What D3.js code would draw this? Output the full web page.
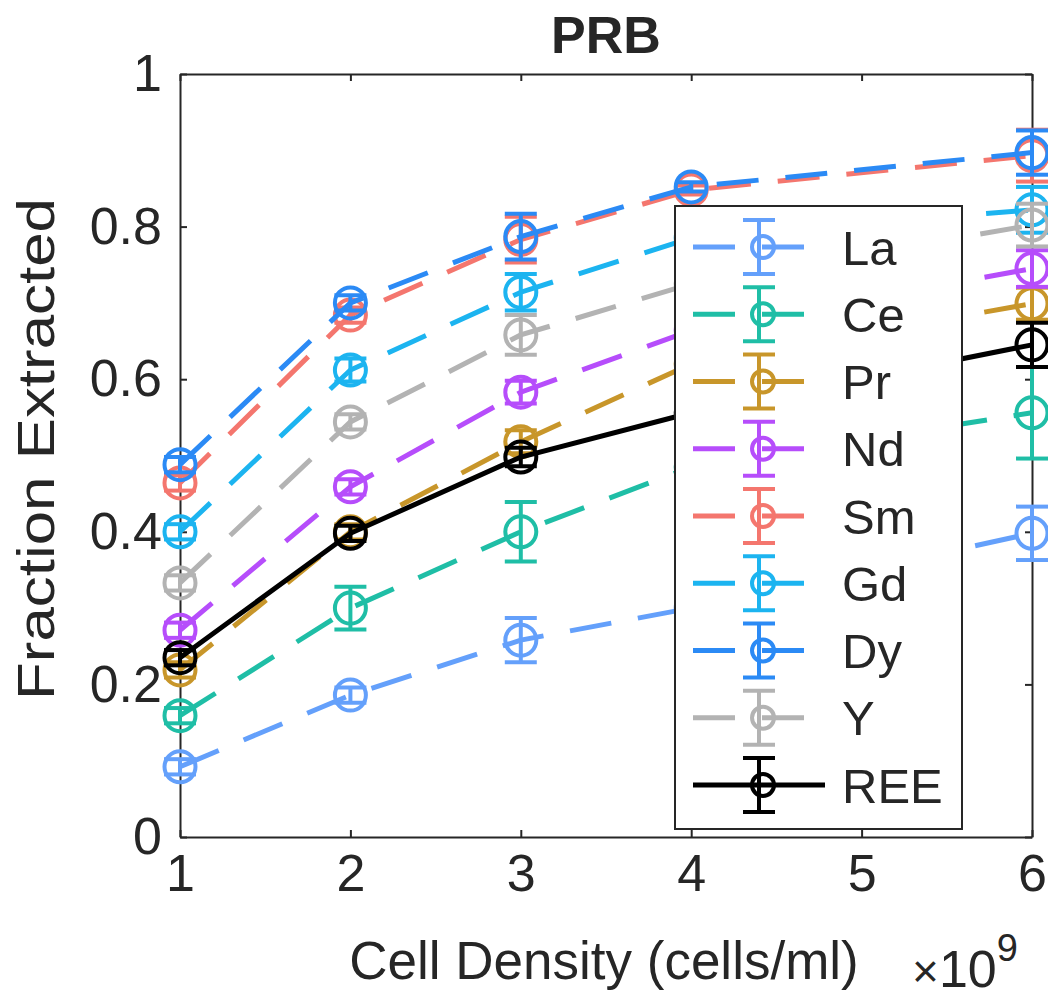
<!DOCTYPE html>
<html>
<head>
<meta charset="utf-8">
<script src="https://cdn.jsdelivr.net/npm/d3@7"></script>
<style>
  html, body { margin: 0; padding: 0; background: #fff; }
  svg { display: block; }
  text { font-family: "Liberation Sans", Arial, Helvetica, sans-serif; fill: #262626; }
</style>
</head>
<body>
<svg id="chart" width="1048" height="999"></svg>
<script>
// ---- data ----
const xValues = [1, 2, 3, 4, 6]; // cell density ×10^9
const xTicks = [1, 2, 3, 4, 5, 6];
const yTicks = [0, 0.2, 0.4, 0.6, 0.8, 1];
const yTickLabels = ["0", "0.2", "0.4", "0.6", "0.8", "1"];
const seriesNames = ["La", "Ce", "Pr", "Nd", "Sm", "Gd", "Dy", "Y", "REE"];
const seriesColors = ["#64a0fb", "#1fbea6", "#c8962a", "#b64dfb", "#f4766e", "#1cb4f0", "#2b8af5", "#b3b3b3", "#000000"];

const La  = [0.092, 0.186, 0.258, 0.300, 0.398];
const Ce  = [0.159, 0.300, 0.400, 0.485, 0.556];
const Pr  = [0.219, 0.400, 0.518, 0.620, 0.699];
const Nd  = [0.271, 0.459, 0.583, 0.664, 0.745];
const Sm  = [0.464, 0.684, 0.783, 0.848, 0.893];
const Gd  = [0.400, 0.612, 0.714, 0.785, 0.822];
const Dy  = [0.488, 0.700, 0.787, 0.852, 0.897];
const Yv  = [0.333, 0.544, 0.658, 0.725, 0.802];
const REE = [0.235, 0.398, 0.498, 0.556, 0.645];

const LaErr  = [0.010, 0.010, 0.029, 0.020, 0.035];
const CeErr  = [0.010, 0.028, 0.039, 0.030, 0.060];
const PrErr  = [0.010, 0.010, 0.015, 0.018, 0.021];
const NdErr  = [0.010, 0.010, 0.015, 0.018, 0.024];
const SmErr  = [0.010, 0.010, 0.030, 0.006, 0.034];
const GdErr  = [0.010, 0.015, 0.024, 0.018, 0.030];
const DyErr  = [0.010, 0.010, 0.030, 0.006, 0.029];
const YErr   = [0.010, 0.010, 0.026, 0.018, 0.028];
const REEErr = [0.010, 0.010, 0.012, 0.015, 0.029];

const seriesValues = [La, Ce, Pr, Nd, Sm, Gd, Dy, Yv, REE];
const seriesErrors = [LaErr, CeErr, PrErr, NdErr, SmErr, GdErr, DyErr, YErr, REEErr];

// ---- layout ----
const svg = d3.select("#chart");
const x = d3.scaleLinear().domain([1, 6]).range([180, 1032]);
const y = d3.scaleLinear().domain([0, 1]).range([837, 74]);
const axisColor = "#262626";
const tickFont = 52;

const series = seriesNames.map((name, i) => ({
  name, color: seriesColors[i],
  dashed: name !== "REE",
  points: xValues.map((xv, j) => ({ x: xv, v: seriesValues[i][j], e: seriesErrors[i][j] }))
}));

// axes
const gx = svg.append("g").attr("transform", `translate(0,${y(0)})`)
  .call(d3.axisBottom(x).tickValues(xTicks).tickFormat(d3.format("d")).tickSizeInner(-7).tickSizeOuter(0).tickPadding(17));
const gxTop = svg.append("g").attr("transform", `translate(0,${y(1)})`)
  .call(d3.axisTop(x).tickValues(xTicks).tickFormat("").tickSizeInner(-7).tickSizeOuter(0));
const gy = svg.append("g").attr("transform", `translate(${x(1)},0)`)
  .call(d3.axisLeft(y).tickValues(yTicks).tickFormat((d, i) => yTickLabels[i]).tickSizeInner(-7).tickSizeOuter(0).tickPadding(18));
const gyR = svg.append("g").attr("transform", `translate(${x(6)},0)`)
  .call(d3.axisRight(y).tickValues(yTicks).tickFormat("").tickSizeInner(-7).tickSizeOuter(0));
[gx, gxTop, gy, gyR].forEach(g => {
  g.select(".domain").attr("stroke", axisColor).attr("stroke-width", 2);
  g.selectAll(".tick line").attr("stroke", axisColor).attr("stroke-width", 2);
  g.selectAll(".tick text").style("font-size", tickFont + "px").attr("fill", axisColor)
    .style("font-family", '"Liberation Sans", Arial, sans-serif');
});
gx.selectAll(".tick text").attr("dy", "0.71em");

// data
const line = d3.line().x(d => x(d.x)).y(d => y(d.v));
const capHalf = 16, markerR = 15.5;
series.forEach(s => {
  const g = svg.append("g");
  g.append("path").datum(s.points).attr("d", line)
    .attr("fill", "none").attr("stroke", s.color).attr("stroke-width", 5)
    .attr("stroke-dasharray", s.dashed ? "42,27" : null);
  s.points.forEach(p => {
    const cx = x(p.x);
    const yt = y(p.v + p.e), yb = y(p.v - p.e);
    g.append("line").attr("x1", cx).attr("x2", cx).attr("y1", yt).attr("y2", yb)
      .attr("stroke", s.color).attr("stroke-width", 4);
    g.append("line").attr("x1", cx - capHalf).attr("x2", cx + capHalf).attr("y1", yt).attr("y2", yt)
      .attr("stroke", s.color).attr("stroke-width", 4);
    g.append("line").attr("x1", cx - capHalf).attr("x2", cx + capHalf).attr("y1", yb).attr("y2", yb)
      .attr("stroke", s.color).attr("stroke-width", 4);
    g.append("circle").attr("cx", cx).attr("cy", y(p.v)).attr("r", markerR)
      .attr("fill", "none").attr("stroke", s.color).attr("stroke-width", 4);
  });
});

// title and labels
svg.append("text").attr("x", (x(1) + x(6)) / 2).attr("y", 53).attr("text-anchor", "middle")
  .style("font-size", "52px").style("font-weight", "bold").attr("fill", "#000").text("PRB");
svg.append("text").attr("x", 604).attr("y", 979).attr("text-anchor", "middle")
  .style("font-size", "53px").text("Cell Density (cells/ml)");
svg.append("text").attr("transform", `translate(54,449) rotate(-90) scale(1.19,1)`).attr("text-anchor", "middle")
  .style("font-size", "52px").text("Fraction Extracted");
const ex = svg.append("text").attr("x", 912).attr("y", 987).style("font-size", "52px");
ex.append("tspan").style("font-size", "46px").text("\u00d7");
ex.append("tspan").text("10");
ex.append("tspan").attr("dy", -26).style("font-size", "38px").text("9");

// legend
const lg = svg.append("g");
lg.append("rect").attr("x", 675).attr("y", 206).attr("width", 287).attr("height", 623)
  .attr("fill", "#fff").attr("stroke", axisColor).attr("stroke-width", 2);
const rowY = d3.scaleLinear().domain([0, seriesNames.length - 1]).range([247, 785]);
series.forEach((s, i) => {
  const cy = rowY(i);
  const isREE = !s.dashed;
  lg.append("line").attr("x1", 693).attr("x2", isREE ? 825 : 807).attr("y1", cy).attr("y2", cy)
    .attr("stroke", s.color).attr("stroke-width", 5).attr("stroke-dasharray", s.dashed ? "42,27" : null);
  const ex0 = 759;
  lg.append("line").attr("x1", ex0).attr("x2", ex0).attr("y1", cy - 27).attr("y2", cy + 27)
    .attr("stroke", s.color).attr("stroke-width", 4);
  [cy - 27, cy + 27].forEach(yy => lg.append("line").attr("x1", ex0 - 16).attr("x2", ex0 + 16)
    .attr("y1", yy).attr("y2", yy).attr("stroke", s.color).attr("stroke-width", 4));
  lg.append("circle").attr("cx", 763).attr("cy", cy).attr("r", 11)
    .attr("fill", "none").attr("stroke", s.color).attr("stroke-width", 4);
  lg.append("text").attr("x", 842).attr("y", cy).attr("dy", "0.36em")
    .style("font-size", "49px").attr("fill", "#000").text(s.name);
});
</script>
</body>
</html>
